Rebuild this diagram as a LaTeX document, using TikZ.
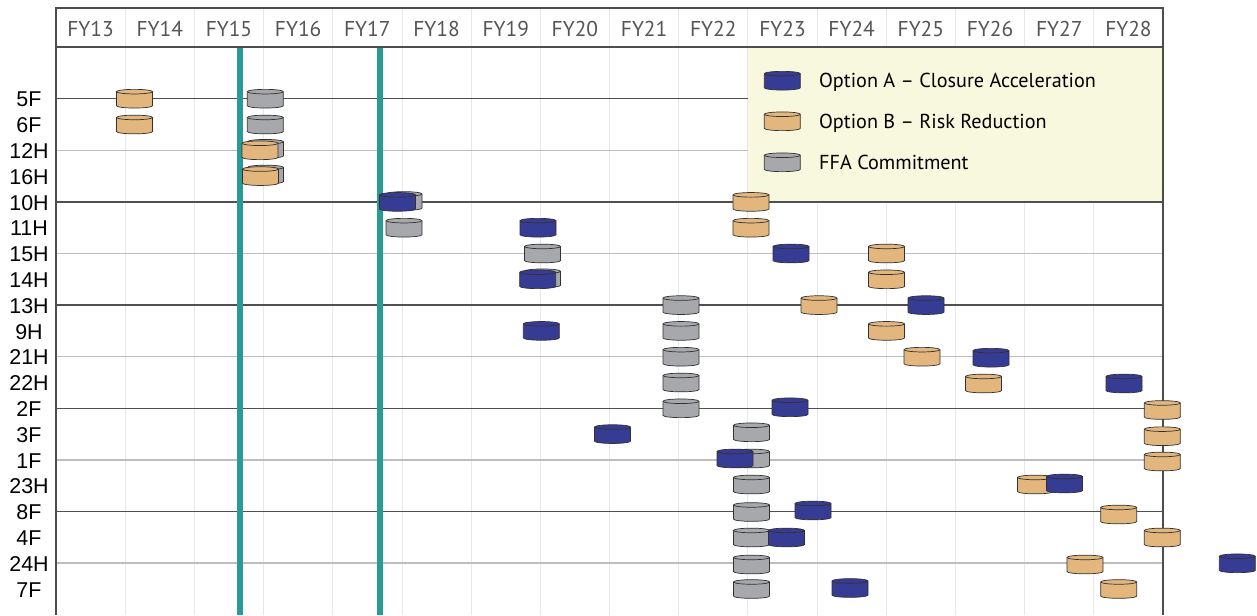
\documentclass[tikz,border=0pt]{standalone}
\usepackage{fontspec}
\setmainfont{Liberation Sans}
\newfontfamily\ptsans{PT Sans}
\usetikzlibrary{positioning}
\definecolor{optA}{RGB}{54,59,148}
\definecolor{optB}{RGB}{226,182,125}
\definecolor{ffa}{RGB}{167,168,172}
\definecolor{rimLine}{RGB}{50,50,50}
\definecolor{frameLine}{RGB}{77,77,77}
\definecolor{rowDark}{RGB}{80,80,80}
\definecolor{rowLight}{RGB}{190,190,194}
\definecolor{gridLine}{RGB}{232,232,232}
\definecolor{milestone}{RGB}{42,154,150}
\definecolor{legendFill}{RGB}{248,248,222}
\definecolor{headText}{RGB}{85,85,85}
\tikzset{
    pics/drum/.style={code={
        \draw[rimLine, line width=0.4pt, fill=#1]
            (-0.36cm,0.141cm) -- (-0.36cm,-0.141cm)
            arc[start angle=180, end angle=360, x radius=0.36cm, y radius=0.046cm]
            -- (0.36cm,0.141cm)
            arc[start angle=0, end angle=180, x radius=0.36cm, y radius=0.046cm] -- cycle;
        \draw[rimLine, line width=0.4pt]
            (-0.36cm,0.141cm) arc[start angle=180, end angle=360, x radius=0.36cm, y radius=0.046cm];
    }}
}
\begin{document}
\begin{tikzpicture}[x=0.02cm,y=-0.02cm]

    \tikzstyle{yearLabel}=[font=\ptsans\fontsize{12.2}{14}\selectfont, text=headText]
    \tikzstyle{rowLabel}=[font=\fontsize{12.2}{14}\selectfont]
    \tikzstyle{legendText}=[font=\ptsans\fontsize{11.5}{13}\selectfont, inner sep=0pt]

    \useasboundingbox (0,0) rectangle (1257,615);

    % Spacing
    \def \chartL {56}
    \def \chartR {1163}
    \def \colw {69.19}
    \def \rowtop {98.7}
    \def \rowh {25.8}

    % Grid
    \foreach \k in {1,...,15}
        \draw[gridLine, line width=0.5pt] ({\chartL+\k*\colw},8) -- ({\chartL+\k*\colw},615);
    \foreach \i in {0,4,8,12,16}
        \draw[rowDark, line width=0.9pt] (\chartL,{\rowtop+\i*\rowh}) -- (\chartR,{\rowtop+\i*\rowh});
    \foreach \i in {2,6,10,14,18}
        \draw[rowLight, line width=0.9pt] (\chartL,{\rowtop+\i*\rowh}) -- (\chartR,{\rowtop+\i*\rowh});

    % Legend background
    \fill[legendFill] (748,47) rectangle (\chartR,201.1);

    % Frame
    \draw[frameLine, line width=0.75pt] (\chartL,615) -- (\chartL,8) -- (\chartR,8) -- (\chartR,615);
    \draw[frameLine, line width=0.75pt] (\chartL,47) -- (\chartR,47);

    % Milestones
    \draw[milestone, line width=3.7pt] (240,47.6) -- (240,615);
    \draw[milestone, line width=3.7pt] (380,47.6) -- (380,615);

    % Years
    \foreach \yr [count=\k from 0] in {13,...,28}
        \node[yearLabel] (fy\yr) at ({\chartL+(\k+0.5)*\colw},28.5) {FY\yr};

    % Rows
    \foreach \lab [count=\i from 0] in {5F,6F,12H,16H,10H,11H,15H,14H,13H,9H,21H,22H,2F,3F,1F,23H,8F,4F,24H,7F}
        \node[rowLabel] (row\lab) at (29,{\rowtop+0.8+\i*\rowh}) {\lab};

    % Legend
    \pic (keyA) at (782.3,80.7) {drum=optA};
    \pic (keyB) at (782.3,121.3) {drum=optB};
    \pic (keyC) at (782.3,162.3) {drum=ffa};
    \coordinate (keyAEnd) at (800.3,88);
    \coordinate (keyBEnd) at (800.3,128.6);
    \coordinate (keyCEnd) at (800.3,169.6);
    \node[legendText, base right=0.37cm of keyAEnd] (keyAText) {Option A – Closure Acceleration};
    \node[legendText, base right=0.37cm of keyBEnd] (keyBText) {Option B – Risk Reduction};
    \node[legendText, base right=0.37cm of keyCEnd] (keyCText) {FFA Commitment};

    % Units
    \pic (b5F)  at (134.5,98.7) {drum=optB};
    \pic (g5F)  at (265.3,98.7) {drum=ffa};
    \pic (b6F)  at (134.5,124.5) {drum=optB};
    \pic (g6F)  at (265.3,124.5) {drum=ffa};
    \pic (g12H) at (265.5,148.8) {drum=ffa};
    \pic (b12H) at (260,150.3) {drum=optB};
    \pic (g16H) at (265.5,174.5) {drum=ffa};
    \pic (b16H) at (260.5,176.1) {drum=optB};
    \pic (g10H) at (404,201) {drum=ffa};
    \pic (a10H) at (397.5,201.9) {drum=optA};
    \pic (b10H) at (751,201.9) {drum=optB};
    \pic (g11H) at (404,227.7) {drum=ffa};
    \pic (a11H) at (538,227.7) {drum=optA};
    \pic (b11H) at (751,227.7) {drum=optB};
    \pic (g15H) at (542.5,253.5) {drum=ffa};
    \pic (a15H) at (791,253.5) {drum=optA};
    \pic (b15H) at (886.5,253.5) {drum=optB};
    \pic (g14H) at (542.5,278.3) {drum=ffa};
    \pic (a14H) at (537.7,279.3) {drum=optA};
    \pic (b14H) at (886.5,279.3) {drum=optB};
    \pic (g13H) at (681,305.1) {drum=ffa};
    \pic (b13H) at (819,305.1) {drum=optB};
    \pic (a13H) at (926,305.1) {drum=optA};
    \pic (a9H)  at (541.3,330.9) {drum=optA};
    \pic (g9H)  at (681,330.9) {drum=ffa};
    \pic (b9H)  at (886.5,330.9) {drum=optB};
    \pic (g21H) at (681,356.7) {drum=ffa};
    \pic (b21H) at (922,356.7) {drum=optB};
    \pic (a21H) at (991,357.7) {drum=optA};
    \pic (g22H) at (681,382.5) {drum=ffa};
    \pic (b22H) at (983.5,383.5) {drum=optB};
    \pic (a22H) at (1124,383.5) {drum=optA};
    \pic (g2F)  at (681,408.3) {drum=ffa};
    \pic (a2F)  at (790,407.3) {drum=optA};
    \pic (b2F)  at (1162.3,410) {drum=optB};
    \pic (a3F)  at (612.5,434.1) {drum=optA};
    \pic (g3F)  at (751.5,432.3) {drum=ffa};
    \pic (b3F)  at (1162.3,436.2) {drum=optB};
    \pic (g1F)  at (751.5,458.5) {drum=ffa};
    \pic (a1F)  at (735,458.5) {drum=optA};
    \pic (b1F)  at (1162.3,461.5) {drum=optB};
    \pic (g23H) at (751.5,484.5) {drum=ffa};
    \pic (b23H) at (1035.5,484.5) {drum=optB};
    \pic (a23H) at (1064.5,483.5) {drum=optA};
    \pic (g8F)  at (751.5,512) {drum=ffa};
    \pic (a8F)  at (813,510.5) {drum=optA};
    \pic (b8F)  at (1118.7,514.5) {drum=optB};
    \pic (g4F)  at (751.5,537.5) {drum=ffa};
    \pic (a4F)  at (786.5,537.5) {drum=optA};
    \pic (b4F)  at (1162.3,537.5) {drum=optB};
    \pic (g24H) at (751.5,564.5) {drum=ffa};
    \pic (b24H) at (1085,564.5) {drum=optB};
    \pic (a24H) at (1237.3,563.3) {drum=optA};
    \pic (g7F)  at (751.5,589) {drum=ffa};
    \pic (a7F)  at (850,588) {drum=optA};
    \pic (b7F)  at (1118.7,589) {drum=optB};

\end{tikzpicture}
\end{document}
